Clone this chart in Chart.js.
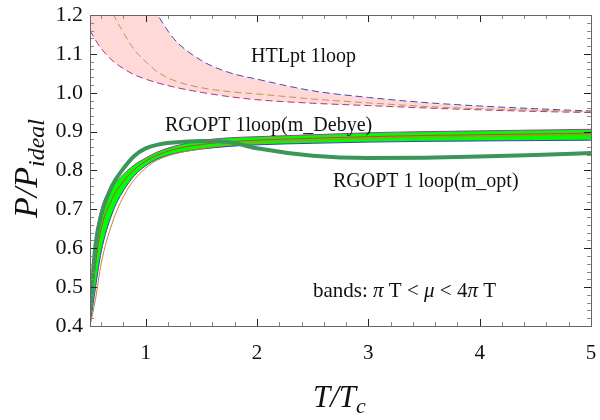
<!DOCTYPE html>
<html>
<head>
<meta charset="utf-8">
<script src="https://cdn.jsdelivr.net/npm/chart.js@4"></script>
<style>
  body { margin: 0; background: #fff; }
  canvas { display: block; }
</style>
</head>
<body>
<canvas id="myChart" width="600" height="420"></canvas>
<script>
// T/Tc grid shared by every curve
const tGrid = [0.5, 0.55, 0.6, 0.7, 0.8, 0.9, 1.0, 1.1, 1.25, 1.5, 1.75, 2.0, 2.5, 3.0, 3.5, 4.0, 4.5, 5.0];

// HTLpt 1loop band (upper, central, lower)
const htlUpper = [1.9, 1.8, 1.7, 1.52, 1.40, 1.31, 1.245, 1.203, 1.14, 1.083, 1.052, 1.035, 1.005, 0.988, 0.975, 0.966, 0.959, 0.953];
const htlMid   = [1.45, 1.37, 1.31, 1.21, 1.155, 1.11, 1.08, 1.055, 1.032, 1.013, 1.003, 0.997, 0.984, 0.974, 0.965, 0.959, 0.955, 0.951];
const htlLower = [1.16, 1.135, 1.114, 1.083, 1.062, 1.046, 1.035, 1.026, 1.015, 1.001, 0.990, 0.982, 0.973, 0.967, 0.961, 0.956, 0.952, 0.949];

// RGOPT 1loop (m_Debye) band
const debyeUpper = [0.42, 0.62, 0.70, 0.758, 0.79, 0.815, 0.832, 0.847, 0.862, 0.877, 0.884, 0.887, 0.892, 0.897, 0.900, 0.902, 0.904, 0.906];
const debyeMid   = [0.41, 0.56, 0.65, 0.728, 0.772, 0.803, 0.824, 0.839, 0.854, 0.867, 0.874, 0.878, 0.883, 0.887, 0.890, 0.892, 0.894, 0.896];
const debyeLower = [0.40, 0.50, 0.59, 0.69, 0.748, 0.787, 0.812, 0.829, 0.843, 0.855, 0.862, 0.866, 0.870, 0.873, 0.875, 0.876, 0.877, 0.878];
const debyeAlt   = [0.40, 0.47, 0.56, 0.665, 0.733, 0.777, 0.806, 0.826, 0.842, 0.856, 0.866, 0.872, 0.878, 0.883, 0.886, 0.888, 0.890, 0.892];

// RGOPT 1 loop (m_opt)
const optCurve = [0.44, 0.61, 0.685, 0.762, 0.805, 0.838, 0.857, 0.866, 0.872, 0.876, 0.873, 0.857, 0.838, 0.832, 0.833, 0.836, 0.840, 0.845];

const xTicks = [1, 2, 3, 4, 5];
const yTicks = [0.4, 0.5, 0.6, 0.7, 0.8, 0.9, 1.0, 1.1, 1.2];

const serif = '"Liberation Serif", "DejaVu Serif", serif';

function pts(arr) {
    return tGrid.map((t, i) => ({ x: t, y: arr[i] }));
}

function line(arr, color, width, extra) {
    return Object.assign({
        data: pts(arr),
        borderColor: color,
        borderWidth: width,
        pointRadius: 0,
        cubicInterpolationMode: 'monotone',
        fill: false
    }, extra || {});
}

const datasets = [
    line(htlLower, 'rgb(165,55,125)', 1, { borderDash: [7, 4], order: 5 }),
    line(htlUpper, 'rgb(70,70,190)', 1, { borderDash: [7, 4], order: 5, fill: { target: 0, above: 'rgb(255,216,216)', below: 'rgb(255,216,216)' } }),
    line(htlMid, 'rgb(190,150,80)', 1, { borderDash: [7, 4], order: 4 }),
    line(debyeLower, 'rgb(60,60,200)', 1, { order: 3 }),
    line(debyeUpper, 'rgb(160,60,160)', 1, { order: 3, fill: { target: 3, above: 'rgb(0,255,0)', below: 'rgb(0,255,0)' } }),
    line(debyeMid, 'rgb(220,60,60)', 1, { order: 2 }),
    line(debyeAlt, 'rgb(200,130,50)', 1, { order: 2 }),
    line(optCurve, 'rgb(60,150,90)', 4, { order: 0 })
];

function minorSteps(from, to, step) {
    const out = [];
    for (let i = 0; from + i * step <= to + 1e-9; i++) out.push(+(from + i * step).toFixed(4));
    return out;
}

const framePlugin = {
    id: 'frame',
    afterDraw(chart) {
        const ctx = chart.ctx;
        const a = chart.chartArea;
        const xs = chart.scales.x, ys = chart.scales.y;
        ctx.save();
        // ticks on all four sides, pointing inward
        const xMinor = minorSteps(0.6, 4.8, 0.2).filter(v => !xTicks.includes(v));
        const yMinor = minorSteps(0.42, 1.18, 0.02).filter(v => !yTicks.some(t => Math.abs(t - v) < 1e-6));
        ctx.lineWidth = 1;
        ctx.strokeStyle = '#888';
        ctx.beginPath();
        xMinor.forEach(v => {
            const px = Math.round(xs.getPixelForValue(v)) + 0.5;
            ctx.moveTo(px, a.bottom); ctx.lineTo(px, a.bottom - 4);
            ctx.moveTo(px, a.top); ctx.lineTo(px, a.top + 4);
        });
        yMinor.forEach(v => {
            const py = Math.round(ys.getPixelForValue(v)) + 0.5;
            ctx.moveTo(a.left, py); ctx.lineTo(a.left + 4, py);
            ctx.moveTo(a.right, py); ctx.lineTo(a.right - 4, py);
        });
        ctx.stroke();
        ctx.strokeStyle = '#222';
        ctx.beginPath();
        xTicks.forEach(v => {
            const px = Math.round(xs.getPixelForValue(v)) + 0.5;
            ctx.moveTo(px, a.bottom); ctx.lineTo(px, a.bottom - 7);
            ctx.moveTo(px, a.top); ctx.lineTo(px, a.top + 7);
        });
        yTicks.forEach(v => {
            const py = Math.round(ys.getPixelForValue(v)) + 0.5;
            ctx.moveTo(a.left, py); ctx.lineTo(a.left + 7, py);
            ctx.moveTo(a.right, py); ctx.lineTo(a.right - 7, py);
        });
        ctx.stroke();
        ctx.strokeStyle = '#666';
        ctx.strokeRect(Math.round(a.left) + 0.5, Math.round(a.top) + 0.5, Math.round(a.right - a.left), Math.round(a.bottom - a.top));

        // annotations
        ctx.fillStyle = '#111';
        ctx.textBaseline = 'alphabetic';
        ctx.font = '20px ' + serif;
        ctx.fillText('HTLpt 1loop', 251, 62);
        ctx.fillText('RGOPT 1loop(m_Debye)', 165, 131);
        ctx.fillText('RGOPT 1 loop(m_opt)', 333, 187);

        const parts = [['bands: ', false], ['\u03C0', true], [' T < ', false], ['\u03BC', true], [' < 4', false], ['\u03C0', true], [' T', false]];
        let x = 313;
        parts.forEach(([s, it]) => {
            ctx.font = (it ? 'italic ' : '') + '21px ' + serif;
            ctx.fillText(s, x, 297);
            x += ctx.measureText(s).width;
        });

        // axis titles
        ctx.font = 'italic 31px ' + serif;
        ctx.fillText('T/T', 313, 407);
        const w1 = ctx.measureText('T/T').width;
        ctx.font = 'italic 22px ' + serif;
        ctx.fillText('c', 313 + w1, 413);

        ctx.translate(37, 218);
        ctx.rotate(-Math.PI / 2);
        ctx.font = 'italic 34px ' + serif;
        ctx.fillText('P/P', 0, 0);
        const w2 = ctx.measureText('P/P').width;
        ctx.font = 'italic 24px ' + serif;
        ctx.fillText('ideal', w2, 7);
        ctx.restore();
    }
};

const config = {
    type: 'line',
    data: { datasets: datasets },
    options: {
        responsive: false,
        animation: false,
        devicePixelRatio: 1,
        layout: { padding: { top: 15, right: 9, left: 0, bottom: 0 } },
        plugins: { legend: { display: false }, tooltip: { enabled: false } },
        scales: {
            x: {
                type: 'linear',
                min: 0.5,
                max: 5,
                grid: { display: false, drawTicks: false },
                border: { display: false },
                ticks: { color: '#111', font: { family: serif, size: 21 }, padding: 15, maxRotation: 0 },
                afterBuildTicks: s => { s.ticks = xTicks.map(v => ({ value: v })); },
                afterFit: s => { s.height = 94; s.paddingLeft = 0; s.paddingRight = 0; }
            },
            y: {
                type: 'linear',
                min: 0.4,
                max: 1.2,
                grid: { display: false, drawTicks: false },
                border: { display: false },
                ticks: { color: '#111', font: { family: serif, size: 22 }, padding: 7, callback: v => v.toFixed(1) },
                afterBuildTicks: s => { s.ticks = yTicks.map(v => ({ value: v })); },
                afterFit: s => { s.width = 90; s.paddingTop = 0; s.paddingBottom = 0; }
            }
        }
    },
    plugins: [framePlugin]
};

new Chart(document.getElementById('myChart'), config);
</script>
</body>
</html>
